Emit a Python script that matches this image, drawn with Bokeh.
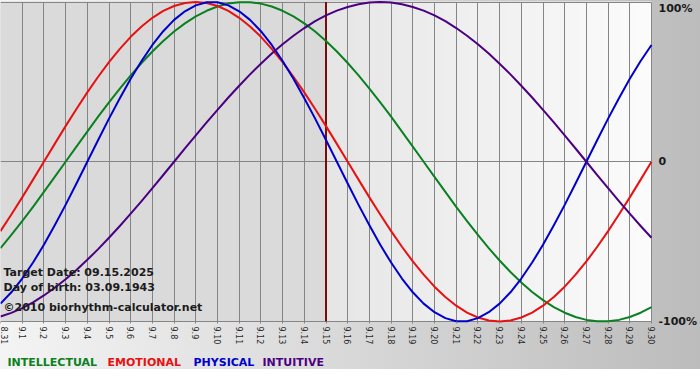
import math
from bokeh.plotting import figure
from bokeh.models import Range1d, LinearAxis, FixedTicker, Label, Grid
from bokeh.embed import file_html
from bokeh.resources import INLINE

# ---- data -------------------------------------------------------------
day_labels = ["8.31", "9.1", "9.2", "9.3", "9.4", "9.5", "9.6", "9.7", "9.8", "9.9",
              "9.10", "9.11", "9.12", "9.13", "9.14", "9.15", "9.16", "9.17", "9.18",
              "9.19", "9.20", "9.21", "9.22", "9.23", "9.24", "9.25", "9.26", "9.27",
              "9.28", "9.29", "9.30"]
days = list(range(len(day_labels)))
target_day = 15  # 9.15
# curve samples every half day (0 = 8.31 ... 30 = 9.30)
t = [i * 0.5 for i in range(61)]

intellectual = [-0.541, -0.458, -0.372, -0.282, -0.189, -0.095, 0.000, 0.095, 0.189, 0.282,
                0.372, 0.458, 0.541, 0.618, 0.690, 0.756, 0.815, 0.866, 0.910, 0.945,
                0.972, 0.990, 0.999, 0.999, 0.990, 0.972, 0.945, 0.910, 0.866, 0.815,
                0.756, 0.690, 0.618, 0.541, 0.458, 0.372, 0.282, 0.189, 0.095, 0.000,
                -0.095, -0.189, -0.282, -0.372, -0.458, -0.541, -0.618, -0.690, -0.756, -0.815,
                -0.866, -0.910, -0.945, -0.972, -0.990, -0.999, -0.999, -0.990, -0.972, -0.945,
                -0.910]
emotional = [-0.434, -0.330, -0.223, -0.112, 0.000, 0.112, 0.223, 0.330, 0.434, 0.532,
             0.624, 0.707, 0.782, 0.847, 0.901, 0.944, 0.975, 0.994, 1.000, 0.994,
             0.975, 0.944, 0.901, 0.847, 0.782, 0.707, 0.624, 0.532, 0.434, 0.330,
             0.223, 0.112, 0.000, -0.112, -0.223, -0.330, -0.434, -0.532, -0.624, -0.707,
             -0.782, -0.847, -0.901, -0.944, -0.975, -0.994, -1.000, -0.994, -0.975, -0.944,
             -0.901, -0.847, -0.782, -0.707, -0.624, -0.532, -0.434, -0.330, -0.223, -0.112,
             0.000]
physical = [-0.888, -0.817, -0.731, -0.631, -0.520, -0.398, -0.270, -0.136, 0.000, 0.136,
            0.270, 0.398, 0.520, 0.631, 0.731, 0.817, 0.888, 0.942, 0.979, 0.998,
            0.998, 0.979, 0.942, 0.888, 0.817, 0.731, 0.631, 0.520, 0.398, 0.270,
            0.136, 0.000, -0.136, -0.270, -0.398, -0.520, -0.631, -0.731, -0.817, -0.888,
            -0.942, -0.979, -0.998, -0.998, -0.979, -0.942, -0.888, -0.817, -0.731, -0.631,
            -0.520, -0.398, -0.270, -0.136, 0.000, 0.136, 0.270, 0.398, 0.520, 0.631,
            0.731]
intuitive = [-0.969, -0.946, -0.916, -0.880, -0.837, -0.789, -0.736, -0.677, -0.614, -0.547,
             -0.476, -0.402, -0.325, -0.246, -0.165, -0.083, 0.000, 0.083, 0.165, 0.246,
             0.325, 0.402, 0.476, 0.547, 0.614, 0.677, 0.736, 0.789, 0.837, 0.880,
             0.916, 0.946, 0.969, 0.986, 0.997, 1.000, 0.997, 0.986, 0.969, 0.946,
             0.916, 0.880, 0.837, 0.789, 0.736, 0.677, 0.614, 0.547, 0.476, 0.402,
             0.325, 0.246, 0.165, 0.083, 0.000, -0.083, -0.165, -0.246, -0.325, -0.402,
             -0.476]

series_names = ["INTELLECTUAL", "EMOTIONAL", "PHYSICAL", "INTUITIVE"]
series_values = [intellectual, emotional, physical, intuitive]
series_colors = ["#0a8020", "#e81010", "#0000cc", "#4b0082"]

y_ticks = [-1, 0]
y_tick_labels = ["-100%", "0"]
top_label = "100%"

info_lines = ["Target Date: 09.15.2025", "Day of birth: 03.09.1943",
              "\u00a92010 biorhythm-calculator.net"]

# ---- layout (pixels) --------------------------------------------------
W, H = 700, 369          # canvas
PLOT_W = 651             # width of the chart area
Y_TOP, Y_BOT = 1.5, 321  # pixel rows of +100% and -100%
k = (Y_BOT - Y_TOP) / 2.0
x_end = days[-1] * W / PLOT_W
y_end = 1 + Y_TOP / k
y_start = -1 - (H - Y_BOT) / k

p = figure(width=W, height=H, output_backend="svg", toolbar_location=None,
           x_range=Range1d(days[0], x_end), y_range=Range1d(y_start, y_end),
           x_axis_location="below", y_axis_location=None,
           min_border_left=0, min_border_top=0, min_border_right=0,
           min_border_bottom=0)
p.border_fill_color = None
p.background_fill_color = None
p.outline_line_color = None
p.styles = {"background": "linear-gradient(to right, #f4f4f4, #bcbcbc)"}

# chart-area background: flat before the target date, light gradient after
p.quad(left=[days[0]], right=[target_day], bottom=[-1], top=[1],
       fill_color="#dadada", line_color="#dadada", level="image")
n_strips = 45
span_days = days[-1] - target_day
lefts, rights, cols = [], [], []
for i in range(n_strips):
    f = i / (n_strips - 1)
    g = int(round(0xe6 + (0xfb - 0xe6) * f))
    lefts.append(target_day + span_days * i / n_strips)
    rights.append(target_day + span_days * (i + 1) / n_strips)
    cols.append("#%02x%02x%02x" % (g, g, g))
p.quad(left=lefts, right=rights, bottom=-1, top=1, fill_color=cols,
       line_color=cols, line_width=1, level="image")

# grid, limited to the chart area
grid_color = "#858585"
if "cross_bounds" in Grid.properties():
    p.xgrid.ticker = FixedTicker(ticks=days)
    p.ygrid.ticker = FixedTicker(ticks=[-1, 0, 1])
    p.xgrid.cross_bounds = (-1, 1)
    p.ygrid.cross_bounds = (days[0], days[-1])
    for g in (p.xgrid[0], p.ygrid[0]):
        g.grid_line_color = grid_color
        g.grid_line_alpha = 1.0
        g.grid_line_width = 1
else:
    p.xgrid.visible = False
    p.ygrid.visible = False
    p.segment(x0=days, x1=days, y0=-1, y1=1, line_color=grid_color,
              line_width=1, level="underlay")
    p.segment(x0=days[0], x1=days[-1], y0=[-1, 0, 1], y1=[-1, 0, 1],
              line_color=grid_color, line_width=1, level="underlay")

# bottom axis, pinned to the -100% line
xa = p.xaxis[0]
xa.fixed_location = -1
xa.ticker = FixedTicker(ticks=days)
xa.major_label_overrides = {d: lab for d, lab in zip(days, day_labels)}
xa.major_label_orientation = -math.pi / 2
xa.major_label_text_font = "DejaVu Sans"
xa.major_label_text_font_size = "8px"
xa.major_label_text_color = "#2a2a2a"
xa.major_label_standoff = 3
xa.axis_line_color = None
xa.major_tick_line_color = grid_color
xa.major_tick_out = 2
xa.major_tick_in = 0
xa.minor_tick_line_color = None

# right-hand percentage labels, pinned to the last day
ya = LinearAxis(ticker=FixedTicker(ticks=y_ticks), fixed_location=days[-1],
                major_label_overrides={v: l for v, l in zip(y_ticks, y_tick_labels)})
ya.major_label_text_font = "DejaVu Sans"
ya.major_label_text_font_size = "11px"
ya.major_label_text_font_style = "bold"
ya.major_label_text_color = "#1a1a1a"
ya.major_label_standoff = 7
ya.axis_line_color = None
ya.major_tick_line_color = None
ya.major_tick_out = 0
ya.major_tick_in = 0
ya.minor_tick_line_color = None
p.add_layout(ya, "right")

p.add_layout(Label(x=days[-1], y=1, text=top_label, x_offset=7, y_offset=-6,
                   text_baseline="middle", text_align="left",
                   text_font="DejaVu Sans", text_font_size="11px",
                   text_font_style="bold", text_color="#1a1a1a"))

# target date marker (only across the chart area)
p.segment(x0=[target_day], x1=[target_day], y0=[-1], y1=[1],
          line_color="#7a0c0c", line_width=2)

# curves
for vals, col in zip(series_values, series_colors):
    p.line(t, vals, line_color=col, line_width=2, line_join="round")

# info texts (inside the chart, bottom-left)
for txt, yoff in zip(info_lines, [97, 82, 62]):
    p.add_layout(Label(x=3, y=yoff, x_units="screen", y_units="screen", text=txt,
                       text_baseline="alphabetic", text_font="DejaVu Sans",
                       text_font_size="11px", text_font_style="bold",
                       text_color="#1c1c1c"))

# colour-coded legend words under the axis
for name, col, xo in zip(series_names, series_colors, [7, 107, 193, 262]):
    p.add_layout(Label(x=xo, y=7, x_units="screen", y_units="screen", text=name,
                       text_baseline="alphabetic", text_font="DejaVu Sans",
                       text_font_size="11px", text_font_style="bold",
                       text_color=col))

open("out.html", "w").write(file_html(p, INLINE))
